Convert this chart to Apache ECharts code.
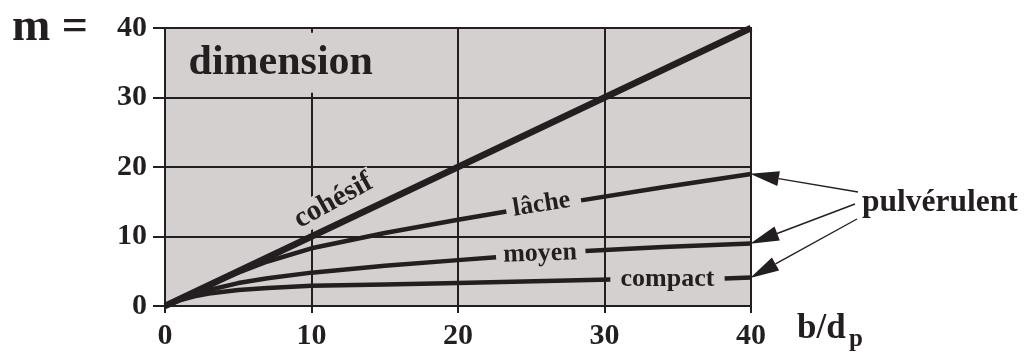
<!DOCTYPE html>
<html><head><meta charset="utf-8">
<script src="https://cdn.jsdelivr.net/npm/echarts@6/dist/echarts.min.js"></script>
<style>html,body{margin:0;padding:0;background:#fff}#c{width:1034px;height:361px}</style>
</head><body><div id="c"></div>
<script>
// axis
const axisMin = 0, axisMax = 40, axisStep = 10;
// curves (b/dp -> m), each split in two parts around its label gap
const cohesif  = [[0,0],[40,40]];
const lacheA   = [[0,0],[1,1.0],[2,2.0],[3,3.0],[5,4.8],[7,6.4],[10,8.3],[15,10.5],[20,12.4],[23.3,13.6]];
const lacheB   = [[28.4,15.2],[34,17.1],[40,19.0]];
const moyenA   = [[0,0],[1,0.9],[2,1.7],[3,2.3],[5,3.3],[7,4.0],[10,4.8],[15,5.8],[20,6.6],[22.6,7.0]];
const moyenB   = [[28.7,7.9],[34,8.5],[40,9.0]];
const compactA = [[0,0],[1,0.8],[2,1.4],[3,1.8],[5,2.3],[7,2.6],[10,2.9],[15,3.1],[20,3.3],[30.4,3.8]];
const compactB = [[38.2,3.95],[40,4.1]];
// in-plot labels
const labelTexts = ['cohésif','lâche','moyen','compact','dimension'];
const labelX     = [11.5, 25.7, 25.6, 34.3, 7.9];
const labelY     = [15.1, 14.6, 7.5, 3.8, 35.0];
const labelRot   = [29, 9, 2, 0, 0];
const labelSize  = [29, 26, 26, 26, 42];
// arrows target line ends
const arrowTargets = [[40,19.0],[40,9.0],[40,4.1]];

const INK = '#231f20', GREY = '#d4d0cf', FONT = '"Liberation Serif","Times New Roman",serif';
const chart = echarts.init(document.getElementById('c'), null, {renderer:'canvas'});

function lineSeries(data, w){
  return {type:'line', data:data, smooth:false, symbol:'none', z:4,
          lineStyle:{color:INK, width:w, cap:'butt', join:'round'}, silent:true, animation:false};
}
const labelData = labelTexts.map((t,i)=>({
  name:t, value:[labelX[i], labelY[i]],
  label:{rotate:labelRot[i], fontSize:labelSize[i],
         padding: t==='dimension'?[6,8,12,8]:[0,3,0,3]}
}));

chart.setOption({
  animation:false,
  grid:{left:165, top:28, width:586, height:278, show:true, backgroundColor:GREY, borderColor:INK, borderWidth:2},
  xAxis:{type:'value', min:axisMin, max:axisMax, interval:axisStep,
    axisLine:{lineStyle:{color:INK,width:2}},
    axisTick:{show:true, length:7, lineStyle:{color:INK,width:2}},
    splitLine:{lineStyle:{color:INK,width:2}},
    axisLabel:{color:INK, fontFamily:FONT, fontWeight:'bold', fontSize:30, margin:15}},
  yAxis:{type:'value', min:axisMin, max:axisMax, interval:axisStep,
    axisLine:{lineStyle:{color:INK,width:2}},
    axisTick:{show:true, length:12, lineStyle:{color:INK,width:2}},
    splitLine:{lineStyle:{color:INK,width:2}},
    axisLabel:{color:INK, fontFamily:FONT, fontWeight:'bold', fontSize:30, margin:18}},
  series:[
    lineSeries(cohesif,6.5),
    lineSeries(lacheA,4.5), lineSeries(lacheB,4.5),
    lineSeries(moyenA,4.5), lineSeries(moyenB,4.5),
    lineSeries(compactA,4.5), lineSeries(compactB,4.5),
    {type:'scatter', data:labelData, symbolSize:0, z:3, silent:true, animation:false,
     itemStyle:{opacity:1},
     label:{show:true, position:'inside', formatter:'{b}', color:INK, opacity:1, fontFamily:FONT, fontWeight:'bold',
            backgroundColor:GREY}}
  ]
});

// annotations and arrows
const starts = [[858,192],[855,204],[857,219]];
const g = [];
g.push({type:'text', left:12, top:5, style:{text:'m =', font:'bold 46px '+FONT, fill:INK}});
g.push({type:'text', left:797, top:311, style:{text:'b/d', font:'bold 35px '+FONT, fill:INK}});
g.push({type:'text', left:849, top:327, style:{text:'p', font:'bold 25px '+FONT, fill:INK}});
g.push({type:'text', left:862, top:187, style:{text:'pulvérulent', font:'bold 31.5px '+FONT, fill:INK}});
arrowTargets.forEach((t,i)=>{
  const p = chart.convertToPixel({gridIndex:0}, t);
  const s = starts[i];
  const dx = p[0]-s[0], dy = p[1]-s[1], L = Math.hypot(dx,dy);
  const ux = dx/L, uy = dy/L, head = 28, hw = 7.5;
  const bx = p[0]-ux*head, by = p[1]-uy*head;
  g.push({type:'line', shape:{x1:s[0],y1:s[1],x2:bx,y2:by}, style:{stroke:INK, lineWidth:1.4}, z:10});
  g.push({type:'polygon', shape:{points:[[p[0]+ux*1,p[1]+uy*1],[bx-uy*hw,by+ux*hw],[bx+uy*hw,by-ux*hw]]},
          style:{fill:INK}, z:10});
});
chart.setOption({graphic:g});
</script></body></html>
